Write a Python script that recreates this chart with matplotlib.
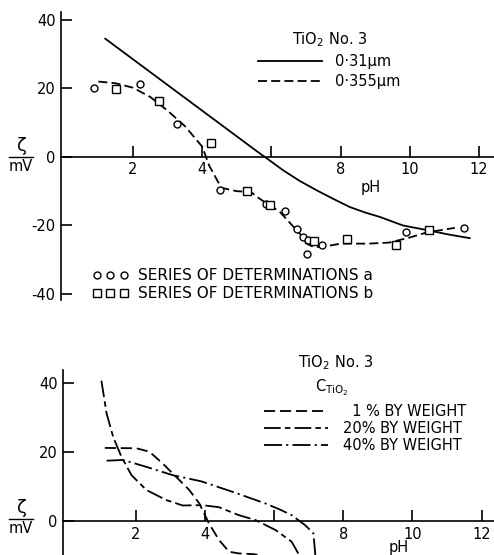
import matplotlib
matplotlib.use("Agg")
import matplotlib.pyplot as plt
from matplotlib.lines import Line2D

plt.rcParams.update({
    "font.family": "DejaVu Sans",
    "font.size": 10.5,
    "lines.scale_dashes": False,
    "mathtext.default": "regular",
})

# ---- upper panel: zeta potential vs pH, two particle sizes ----
ph_031 = [1.2, 2.0, 3.0, 4.0, 4.6, 5.0, 5.6, 6.0, 6.34, 6.8, 7.3, 7.8, 8.26, 8.7, 9.13,
          9.8, 10.52, 11.1, 11.73]
zeta_031 = [34.5, 28.5, 21.0, 13.5, 9.0, 6.0, 1.5, -1.4, -3.9, -6.9, -9.7, -12.3, -14.6,
            -16.2, -17.5, -20.0, -21.4, -22.6, -23.7]

ph_0355 = [1.0, 1.5, 2.0, 2.5, 3.0, 3.5, 4.0, 4.2, 4.55, 5.0, 5.4, 5.66, 6.24, 6.82, 7.0,
           7.2, 7.45, 8.0, 8.8, 9.4, 10.0, 10.5, 11.3]
zeta_0355 = [22.0, 21.5, 20.2, 17.5, 13.5, 9.0, 3.0, -2.5, -9.0, -10.0, -10.2, -12.2, -16.0,
             -22.4, -25.2, -26.2, -26.3, -25.3, -25.3, -25.0, -23.5, -22.0, -20.7]

ph_a = [0.87, 2.2, 3.28, 4.51, 5.84, 6.39, 6.74, 6.92, 7.06, 7.03, 7.47, 9.9, 11.55]
zeta_a = [20.2, 21.2, 9.5, -9.7, -13.8, -15.8, -20.9, -23.4, -24.1, -28.2, -25.7, -21.9, -20.6]

ph_b = [1.51, 2.74, 4.24, 5.28, 5.97, 7.22, 8.19, 9.59, 10.55]
zeta_b = [19.8, 16.2, 4.2, -9.9, -13.9, -24.6, -23.9, -25.6, -21.2]

# ---- lower panel: three TiO2 concentrations ----
ph_1pc = [1.11, 2.02, 2.4, 2.78, 3.17, 3.55, 3.84, 4.12, 4.41, 4.7, 4.98, 5.4, 5.8, 6.2,
          6.6, 7.0]
zeta_1pc = [21.2, 21.1, 20.1, 16.7, 12.8, 9.0, 5.1, -0.7, -5.5, -8.9, -9.4, -9.6, -10.3,
            -13.0, -17.0, -25.0]

ph_20pc = [1.01, 1.16, 1.35, 1.59, 1.88, 2.31, 2.88, 3.36, 3.93, 4.41, 4.98, 5.46, 6.04,
           6.51, 6.7, 7.0, 7.3]
zeta_20pc = [40.7, 31.2, 24.4, 18.6, 13.3, 9.0, 6.1, 4.5, 4.6, 4.0, 1.7, 0.3, -2.6,
             -6.0, -9.4, -14.0, -20.0]

ph_40pc = [1.16, 1.64, 2.31, 3.07, 3.9, 4.79, 5.75, 6.2, 6.51, 6.9, 7.14, 7.19, 7.25, 7.3]
zeta_40pc = [17.5, 17.7, 15.7, 13.3, 11.5, 8.5, 5.1, 3.2, 1.7, -1.2, -3.6, -9.4, -15.0, -20.0]

xticks = [2, 4, 6, 8, 10, 12]
xtick_labels = ["2", "4", "", "8", "10", "12"]
yticks_top = [40, 20, 0, -20, -40]
ytick_labels_top = ["40", "20", "0", "-20", "-40"]
yticks_bottom = [40, 20, 0]
ytick_labels_bottom = ["40", "20", "0"]

W, H = 494, 555
fig = plt.figure(figsize=(W / 100, H / 100), dpi=100)


def fx(px):
    return px / W


def fy(py):
    return 1 - py / H


def style_axes(ax, yticks, ylabels):
    for s in ("top", "right"):
        ax.spines[s].set_visible(False)
    ax.spines["bottom"].set_position(("data", 0))
    for s in ("left", "bottom"):
        ax.spines[s].set_linewidth(1.2)
    ax.set_xticks(xticks)
    ax.set_xticklabels(xtick_labels)
    ax.set_yticks(yticks)
    ax.set_yticklabels(ylabels)
    ax.tick_params(axis="x", direction="in", length=8, width=1.2, pad=4, labelsize=10.5)
    ax.tick_params(axis="y", direction="in", length=8, width=1.2, pad=4, labelsize=10.5)
    ax.patch.set_visible(False)


def zeta_label(yc):
    # zeta over mV, written as a stacked fraction left of the axis
    fig.text(fx(22), fy(yc - 2), "ζ", ha="center", va="bottom", fontsize=13)
    fig.add_artist(Line2D([fx(9), fx(33)], [fy(yc), fy(yc)], color="black", lw=1.0,
                          transform=fig.transFigure))
    fig.text(fx(21), fy(yc + 2), "mV", ha="center", va="top", fontsize=10.5)


lw = 1.3
dash_top = (0, (6.5, 3))
dash_1pc = (0, (8, 3.5))
dash_20pc = (0, (12, 3, 4, 3))
dash_40pc = (0, (13, 3, 1.5, 3))

# upper panel
ax1 = fig.add_axes([fx(61), fy(300), 1 - fx(61), fy(12) - fy(300)])
ax1.set_xlim(-0.08, 12.43)
ax1.set_ylim(-41.75, 42.3)
style_axes(ax1, yticks_top, ytick_labels_top)

l1, = ax1.plot(ph_031, zeta_031, color="black", lw=lw, label="0·31μm")
l2, = ax1.plot(ph_0355, zeta_0355, color="black", lw=lw, ls=dash_top, label="0·355μm")
ax1.plot(ph_a, zeta_a, ls="none", marker="o", ms=5, mfc="white", mec="black", mew=1)
ax1.plot(ph_b, zeta_b, ls="none", marker="s", ms=5.5, mfc="white", mec="black", mew=1)

leg1 = ax1.legend(handles=[l1, l2], title="TiO$_2$ No. 3", frameon=False,
                  loc="upper left", bbox_to_anchor=(fx(258), fy(30)),
                  bbox_transform=fig.transFigure, borderpad=0, borderaxespad=0,
                  handlelength=4.4, handletextpad=0.9, labelspacing=0.35,
                  fontsize=10.5, title_fontsize=10.5)
ax1.add_artist(leg1)

h_a = Line2D([], [], ls="none", marker="o", ms=5, mfc="white", mec="black", mew=1)
h_b = Line2D([], [], ls="none", marker="s", ms=5.5, mfc="white", mec="black", mew=1)
ax1.legend(handles=[h_a, h_b],
           labels=["SERIES OF DETERMINATIONS a", "SERIES OF DETERMINATIONS b"],
           numpoints=3, frameon=False, loc="upper left",
           bbox_to_anchor=(fx(92), fy(268)), bbox_transform=fig.transFigure,
           borderpad=0, borderaxespad=0, handlelength=2.4, handletextpad=0.6,
           labelspacing=0.2, fontsize=11)

ax1.text(8.88, -8.9, "pH", ha="center", va="center", fontsize=10.5)
zeta_label(157)

# lower panel
ax2 = fig.add_axes([fx(63), 0, 1 - fx(63), fy(370)])
ax2.set_xlim(-0.1, 12.36)
ax2.set_ylim(-9.86, 43.8)
style_axes(ax2, yticks_bottom, ytick_labels_bottom)

m1, = ax2.plot(ph_1pc, zeta_1pc, color="black", lw=lw, ls=dash_1pc,
               label="  1 % BY WEIGHT")
m2, = ax2.plot(ph_20pc, zeta_20pc, color="black", lw=lw, ls=dash_20pc,
               label="20% BY WEIGHT")
m3, = ax2.plot(ph_40pc, zeta_40pc, color="black", lw=lw, ls=dash_40pc,
               label="40% BY WEIGHT")

ax2.legend(handles=[m1, m2, m3], frameon=False, loc="upper left",
           bbox_to_anchor=(fx(264), fy(404)), bbox_transform=fig.transFigure,
           borderpad=0, borderaxespad=0, handlelength=4.4, handletextpad=1.0,
           labelspacing=0.15, fontsize=10.5)

fig.text(fx(298), fy(363), "TiO$_2$ No. 3", ha="left", va="center", fontsize=10.5)
fig.text(fx(315), fy(388), "C$_{TiO_2}$", ha="left", va="center", fontsize=10.5)
ax2.text(9.6, -7.6, "pH", ha="center", va="center", fontsize=10.5)
zeta_label(519)

fig.savefig("out.png", dpi=100)
